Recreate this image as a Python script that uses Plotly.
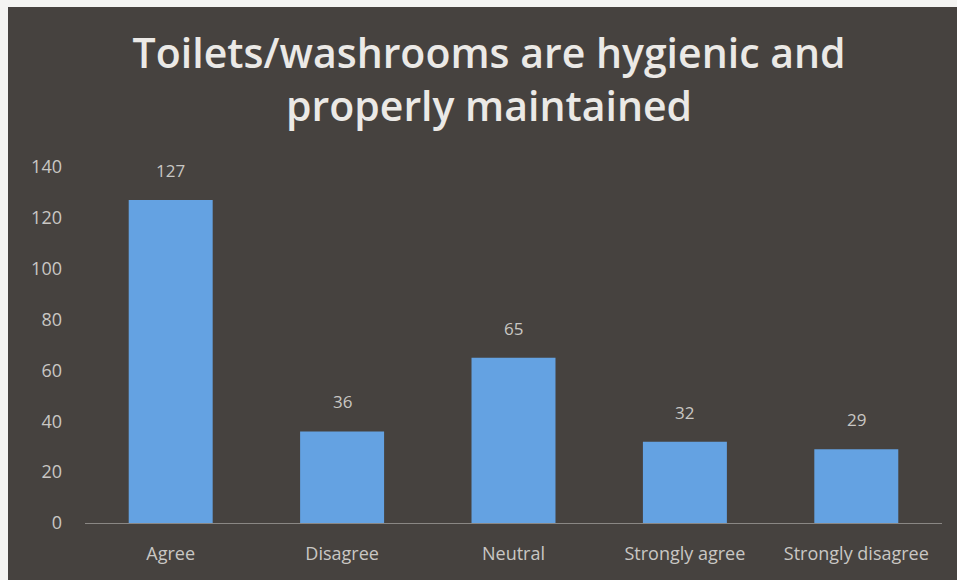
import plotly.graph_objects as go

categories = ["Agree", "Disagree", "Neutral", "Strongly agree", "Strongly disagree"]
values = [127, 36, 65, 32, 29]
y_ticks = [0, 20, 40, 60, 80, 100, 120, 140]

title_text = "Toilets/washrooms are hygienic and<br>properly maintained"

bg = "#46423f"
bar_color = "#64a2e2"
label_color = "#c9c7c4"

fig = go.Figure(
    go.Bar(
        x=categories,
        y=values,
        marker=dict(color=bar_color, line=dict(width=0)),
        width=0.49,
        hoverinfo="x+y",
    )
)

for c, v in zip(categories, values):
    fig.add_annotation(
        x=c, y=v, text=str(v), showarrow=False,
        yanchor="bottom", yshift=16,
        font=dict(family="Open Sans", size=17, color=label_color),
    )

fig.update_layout(
    width=957,
    height=580,
    paper_bgcolor=bg,
    plot_bgcolor=bg,
    margin=dict(l=85, r=15, t=167, b=57),
    showlegend=False,
    title=dict(
        text=title_text,
        x=0.4715,
        xref="paper",
        xanchor="center",
        y=0.883,
        yref="container",
        yanchor="top",
        font=dict(family="Open Sans", size=41, weight=600, color="#ebe9e6"),
    ),
    xaxis=dict(
        showgrid=False,
        showline=True,
        linecolor="#8a8784",
        linewidth=1,
        ticks="",
        ticklabelstandoff=14,
        tickfont=dict(family="Open Sans", size=18, color=label_color),
        fixedrange=True,
    ),
    yaxis=dict(
        range=[0, 140],
        tickvals=y_ticks,
        showgrid=False,
        zeroline=False,
        showline=False,
        ticks="",
        ticklabelstandoff=22,
        tickfont=dict(family="Open Sans", size=18, color=label_color),
        fixedrange=True,
    ),
    shapes=[
        dict(type="rect", xref="paper", yref="paper",
             x0=-85 / 857, x1=-77 / 857, y0=-57 / 356, y1=(356 + 167) / 356,
             fillcolor="#f4f4f2", line=dict(width=0), layer="above"),
        dict(type="rect", xref="paper", yref="paper",
             x0=-85 / 857, x1=(857 + 15) / 857, y0=(356 + 160) / 356, y1=(356 + 167) / 356,
             fillcolor="#f4f4f2", line=dict(width=0), layer="above"),
    ],
)

fig.write_html(
    "out.html",
    config={"displayModeBar": False},
    post_script="document.body.style.margin='0';document.body.style.overflow='hidden';",
)
